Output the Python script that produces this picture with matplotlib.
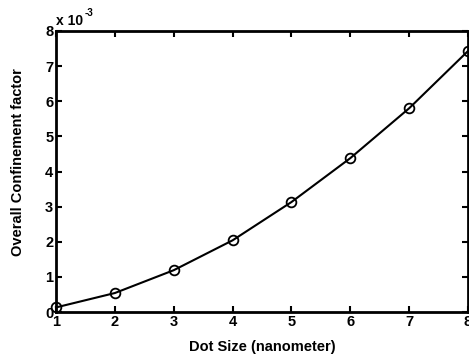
import matplotlib.pyplot as plt
import numpy as np

plt.rcParams["font.family"] = ["Liberation Sans", "DejaVu Sans"]
plt.rcParams["font.weight"] = "bold"

dot_size = [1, 2, 3, 4, 5, 6, 7, 8]
confinement = [0.13e-3, 0.54e-3, 1.19e-3, 2.04e-3, 3.13e-3, 4.38e-3, 5.80e-3, 7.43e-3]
scale = 1e-3

fig = plt.figure(figsize=(4.69, 3.56), dpi=100)
ax = fig.add_axes([56 / 469, 44 / 356, 412 / 469, 281 / 356])
ax.plot(dot_size, np.asarray(confinement) / scale, color="black", linewidth=1.5,
        marker="o", markersize=7, markerfacecolor="none", markeredgewidth=1.3,
        clip_on=False, zorder=3)

ax.set_xlim(1, 8)
ax.set_ylim(0, 8)
ax.set_xticks(dot_size)
ax.set_yticks(range(0, 9))
ax.tick_params(direction="in", length=4, width=1.5, labelsize=10.5, pad=2,
               top=True, right=True)
for lbl in ax.get_xticklabels() + ax.get_yticklabels():
    lbl.set_fontweight("bold")
for s in ax.spines.values():
    s.set_linewidth(2)

ax.set_xlabel("Dot Size (nanometer)", fontsize=10.5, fontweight="bold", labelpad=8)
ax.set_ylabel("Overall Confinement factor", fontsize=10.5, fontweight="bold")
ax.yaxis.set_label_coords(-0.075, 0.534)
ax.text(0.0, 1.01, "x 10", transform=ax.transAxes,
        fontsize=10, fontweight="bold", ha="left", va="bottom")
ax.text(0.069, 1.045, "-3", transform=ax.transAxes,
        fontsize=7, fontweight="bold", ha="left", va="bottom")

fig.savefig("out.png", dpi=100)
